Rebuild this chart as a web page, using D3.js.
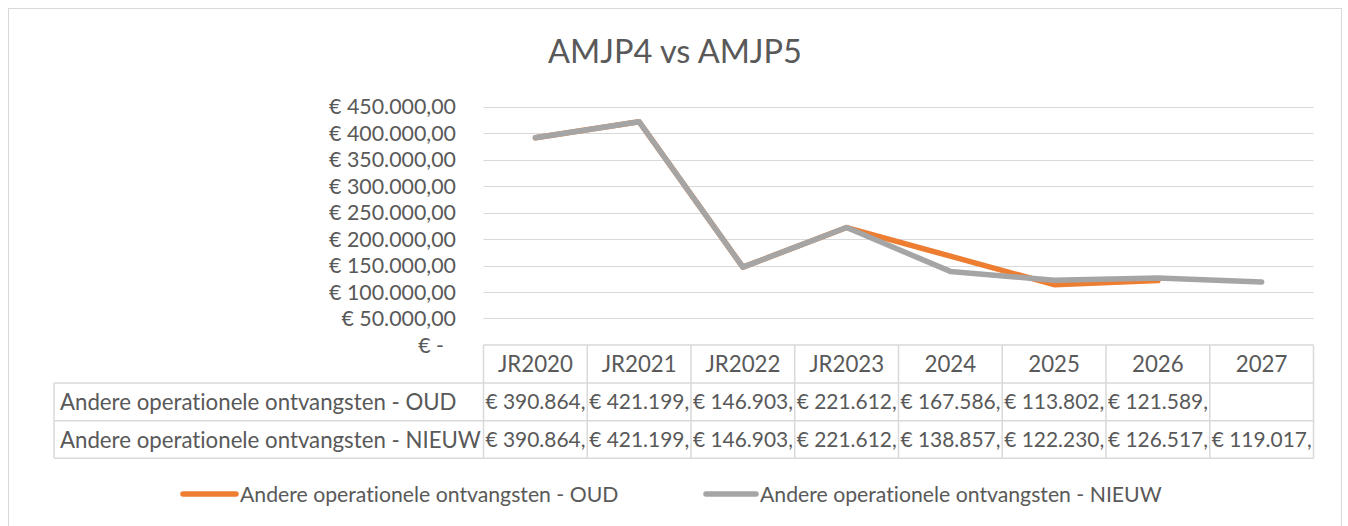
<!DOCTYPE html>
<html><head><meta charset="utf-8">
<script src="https://cdn.jsdelivr.net/npm/d3@7"></script>
<style>
body{margin:0;background:#fff;}
text{font-family:Lato,"Open Sans",sans-serif;fill:#595959;font-variant-ligatures:none;font-feature-settings:"liga" 0,"clig" 0;}
</style>
</head><body>
<svg id="c" width="1348" height="526"></svg>
<script>
const title = "AMJP4 vs AMJP5";
const categories = ["JR2020","JR2021","JR2022","JR2023","2024","2025","2026","2027"];
const seriesNames = ["Andere operationele ontvangsten - OUD","Andere operationele ontvangsten - NIEUW"];
const oud = [390864, 421199, 146903, 221612, 167586, 113802, 121589, null];
const nieuw = [390864, 421199, 146903, 221612, 138857, 122230, 126517, 119017];
const yTicks = [0, 50000, 100000, 150000, 200000, 250000, 300000, 350000, 400000, 450000];
const yTickLabels = ["€ -","€ 50.000,00","€ 100.000,00","€ 150.000,00","€ 200.000,00","€ 250.000,00","€ 300.000,00","€ 350.000,00","€ 400.000,00","€ 450.000,00"];
const seriesColors = ["#ED7D31","#A5A5A5"];

const svg = d3.select("#c");
const grid = "#D9D9D9";
const L = 483.5, R = 1313.5, T = 106.5, B = 345;
const rowH = 37.6;
const labelLeft = 54;

function fit(sel, w){
  sel.style("font-size","100px");
  const l = sel.node().getComputedTextLength();
  const fs = 100*w/l;
  sel.style("font-size", fs+"px");
  return fs;
}

// outer border
svg.append("rect").attr("x",8.5).attr("y",8.5).attr("width",1333).attr("height",530)
  .attr("fill","none").attr("stroke",grid).attr("stroke-width",1);

// title
const t = svg.append("text").attr("x",675).attr("y",63).attr("text-anchor","middle").text(title);
fit(t, 254);

const x = d3.scaleBand().domain(categories).range([L,R]).padding(0);
const y = d3.scaleLinear().domain([0,450000]).range([B,T]);

// gridlines
svg.append("g").selectAll("line").data(yTicks.filter(d=>d>0)).join("line")
  .attr("x1",L).attr("x2",R).attr("y1",d=>Math.round(y(d))+0.5).attr("y2",d=>Math.round(y(d))+0.5)
  .attr("stroke",grid).attr("stroke-width",1.2);

// y axis labels
const yl = svg.append("g").selectAll("text").data(yTicks).join("text")
  .attr("x",(d)=>d===0?444:456).attr("y",d=>y(d)).attr("dy","0.36em").attr("text-anchor","end")
  .text((d,i)=>yTickLabels[i]);
const tmp = svg.append("text").text(yTickLabels[9]);
const yfs = fit(tmp,127); tmp.remove();
yl.style("font-size",yfs+"px");

// lines
const line = d3.line().defined(d=>d.v!=null).x(d=>x(d.c)+x.bandwidth()/2).y(d=>y(d.v));
[oud,nieuw].forEach((s,i)=>{
  svg.append("path").datum(categories.map((c,j)=>({c,v:s[j]})))
    .attr("d",line).attr("fill","none").attr("stroke",seriesColors[i])
    .attr("stroke-width",5.5).attr("stroke-linejoin","round").attr("stroke-linecap","round");
});

// data table
const tg = svg.append("g");
const r0 = B, r1 = B+rowH+0.5, r2 = r1+rowH, r3 = r2+rowH;
const hl = (x1,x2,yy)=>tg.append("line").attr("x1",x1).attr("x2",x2).attr("y1",yy).attr("y2",yy).attr("stroke",grid).attr("stroke-width",1.5);
const vl = (xx,y1,y2)=>tg.append("line").attr("x1",xx).attr("x2",xx).attr("y1",y1).attr("y2",y2).attr("stroke",grid).attr("stroke-width",1.5);
hl(L,R,r0); hl(labelLeft,R,r1); hl(labelLeft,R,r2); hl(labelLeft,R,r3);
vl(labelLeft,r1,r3);
categories.forEach(c=>vl(x(c),r0,r3));
vl(R,r0,r3);

// header
const hdr = tg.selectAll("text.h").data(categories).join("text").attr("class","h")
  .attr("x",d=>x(d)+x.bandwidth()/2).attr("y",(r0+r1)/2).attr("dy","0.36em").attr("text-anchor","middle").text(d=>d);
const tmp2 = svg.append("text").text("JR2021");
const hfs = fit(tmp2,75); tmp2.remove();
hdr.style("font-size",hfs+"px");

// row labels
const rl = tg.selectAll("text.rl").data(seriesNames).join("text").attr("class","rl")
  .attr("x",labelLeft+6).attr("y",(d,i)=>i===0?(r1+r2)/2:(r2+r3)/2).attr("dy","0.36em").text(d=>d);
const tmp3 = svg.append("text").text(seriesNames[1]);
const rfs = fit(tmp3,421); tmp3.remove();
rl.style("font-size",rfs+"px");

// values (Excel shows them cut off at the comma)
const fmt = v => "€ " + d3.format(",")(Math.floor(v)).replace(/,/g,".") + ",";
const tmp4 = svg.append("text").text(fmt(421199));
const vfs = fit(tmp4,100); tmp4.remove();
[oud,nieuw].forEach((s,i)=>{
  const yy = i===0?(r1+r2)/2:(r2+r3)/2;
  tg.append("g").selectAll("text").data(categories.map((c,j)=>({c,v:s[j]})).filter(d=>d.v!=null)).join("text")
    .attr("x",d=>x(d.c)+2).attr("y",yy).attr("dy","0.36em").style("font-size",vfs+"px").text(d=>fmt(d.v));
});

// legend
const lg = svg.append("g");
const legendItems = [{x1:183,x2:236,tx:240},{x1:706,x2:756,tx:760}];
const tmp5 = svg.append("text").text(seriesNames[1]);
const lfs = fit(tmp5,402); tmp5.remove();
legendItems.forEach((it,i)=>{
  lg.append("line").attr("x1",it.x1).attr("x2",it.x2).attr("y1",494).attr("y2",494)
    .attr("stroke",seriesColors[i]).attr("stroke-width",5.5).attr("stroke-linecap","round");
  lg.append("text").attr("x",it.tx).attr("y",494).attr("dy","0.36em").style("font-size",lfs+"px").text(seriesNames[i]);
});
</script>
</body></html>
